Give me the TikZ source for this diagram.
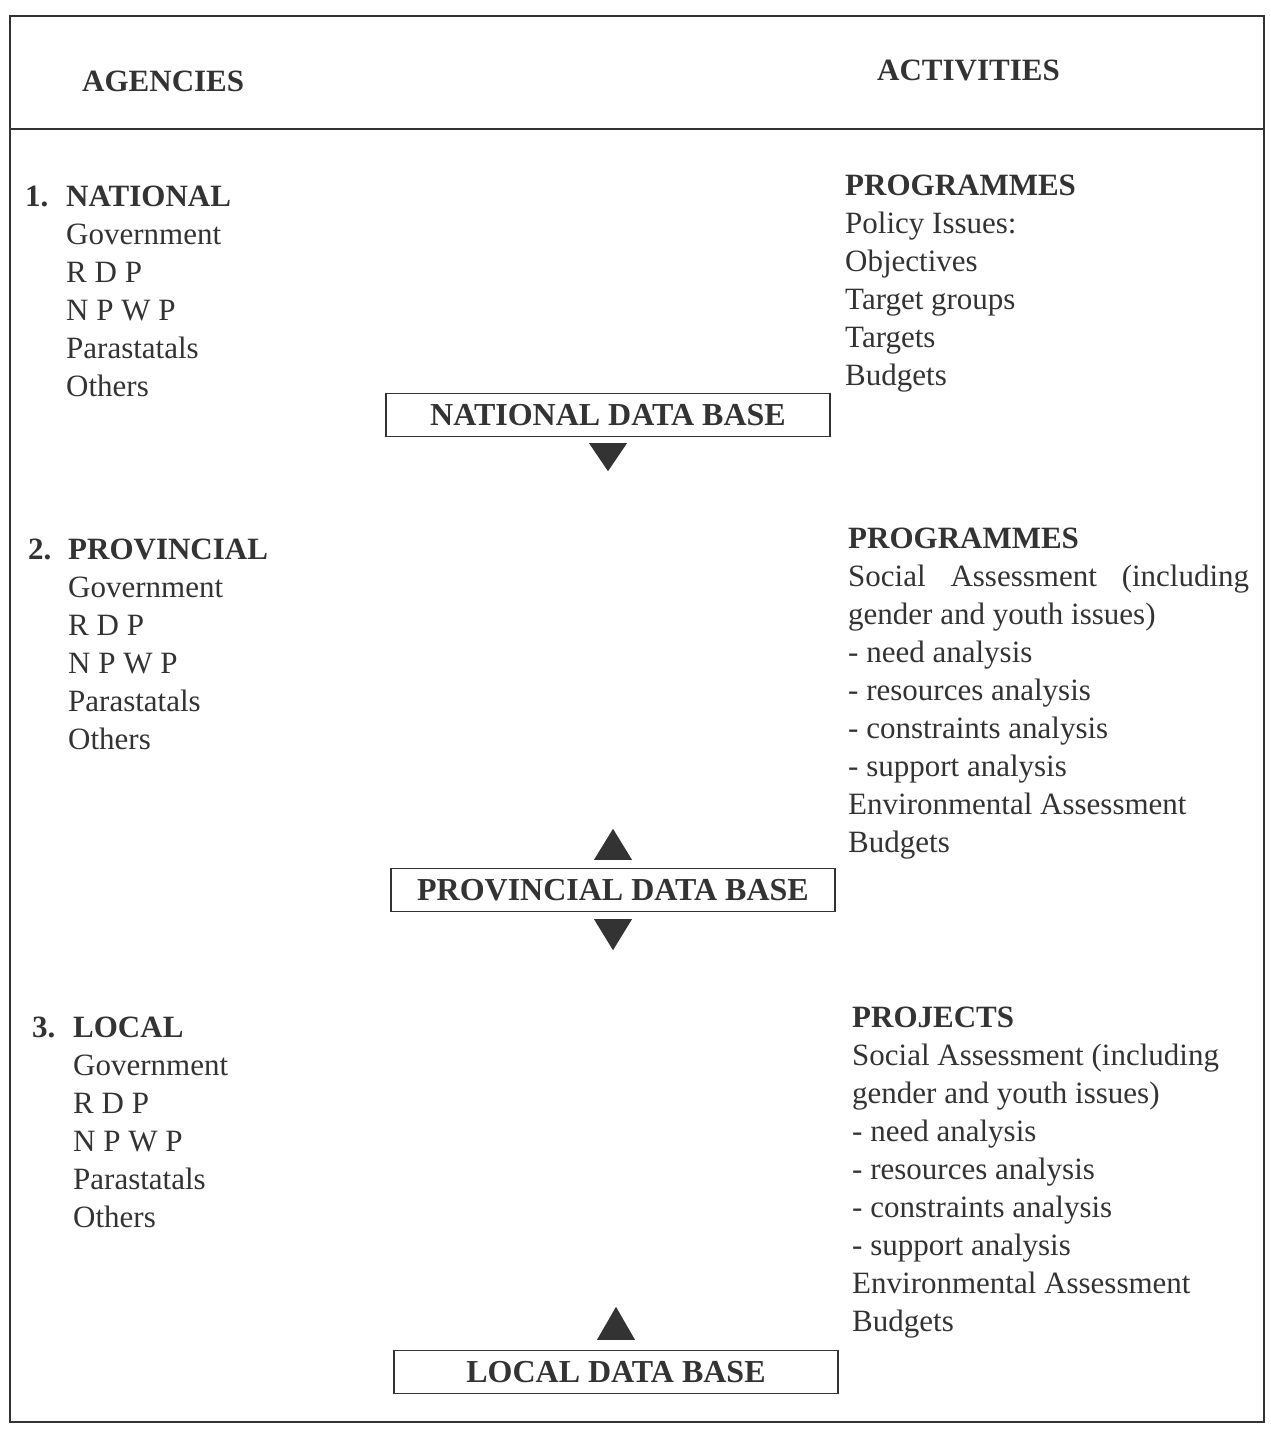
\documentclass[tikz,border=0pt]{standalone}
\usepackage{fontspec}
\setmainfont{Liberation Serif}
\usetikzlibrary{calc}
\definecolor{ink}{gray}{0.2}
\def\downtri(#1)(#2:#3){\fill[tri] ($(#1)+(-19,#2)$) -- ++(38,0) -- ($(#1)+(0,#3)$) -- cycle;}
\def\uptri(#1)(#2:#3){\fill[tri] ($(#1)+(-19,-#2)$) -- ++(38,0) -- ($(#1)+(0,-#3)$) -- cycle;}

\begin{document}
\begin{tikzpicture}[x=1pt,y=-1pt,
	txt/.style={font=\fontsize{31}{38}\selectfont, text=ink, inner sep=0pt, align=left, anchor=base west},
	hd/.style={txt, font=\fontsize{31}{38}\selectfont\bfseries},
	dbbox/.style={draw=ink, line width=1.4pt, minimum width=444pt, minimum height=43pt, inner sep=0pt,
		font=\fontsize{32}{38}\selectfont\bfseries, text=ink},
	frame/.style={draw=ink, line width=1.8pt},
	tri/.style={fill=ink}]
		%%%%% START %%%%%
		\useasboundingbox (0,0) rectangle (1271,1430);
		
		\draw[frame] (10,16) rectangle (1264,1422);
		\draw[frame] (10,129) -- (1264,129);
		
		\node[hd] (agencies) at (82,91) {AGENCIES};
		\node[hd] (activities) at (877,80) {ACTIVITIES};
		
		% agencies (base anchor sits on the last line)
		\node[hd] (num1) at (25,206) {1.};
		\node[txt] (national) at (66,396) {\textbf{NATIONAL}\\Government\\R D P\\N P W P\\Parastatals\\Others};
		\node[hd] (num2) at (28,559) {2.};
		\node[txt] (provincial) at (68,749) {\textbf{PROVINCIAL}\\Government\\R D P\\N P W P\\Parastatals\\Others};
		\node[hd] (num3) at (32,1037) {3.};
		\node[txt] (local) at (73,1227) {\textbf{LOCAL}\\Government\\R D P\\N P W P\\Parastatals\\Others};
		
		% activities
		\node[txt] (prog1) at (845,385) {\textbf{PROGRAMMES}\\Policy Issues:\\Objectives\\Target groups\\Targets\\Budgets};
		\node[txt] (prog2) at (848,852) {\textbf{PROGRAMMES}\\\makebox[401pt][s]{Social Assessment (including}\\gender and youth issues)\\- need analysis\\- resources analysis\\- constraints analysis\\- support analysis\\Environmental Assessment\\Budgets};
		\node[txt] (proj3) at (852,1331) {\textbf{PROJECTS}\\Social Assessment (including\\gender and youth issues)\\- need analysis\\- resources analysis\\- constraints analysis\\- support analysis\\Environmental Assessment\\Budgets};
		
		% data bases
		\node[dbbox] (ndb) at (608,415) {NATIONAL DATA BASE};
		\node[dbbox] (pdb) at (613,890) {PROVINCIAL DATA BASE};
		\node[dbbox] (ldb) at (616,1372) {LOCAL DATA BASE};
		
		\downtri(ndb.south)(6:34)
		\uptri(pdb.north)(8:39)
		\downtri(pdb.south)(7:38)
		\uptri(ldb.north)(10:43)
		
		%%%%% END %%%%%
\end{tikzpicture}
\end{document}
